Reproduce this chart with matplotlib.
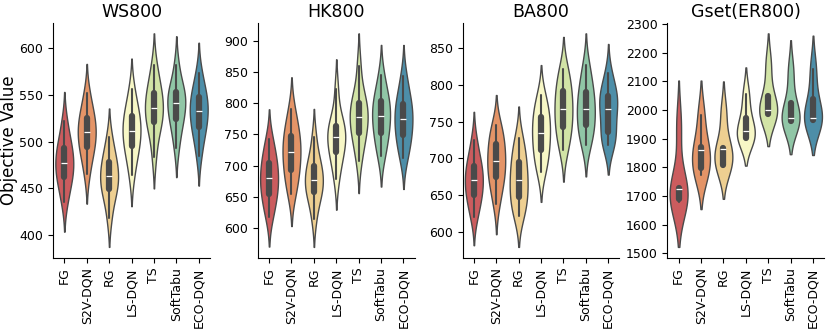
import numpy as np
import pandas as pd
import matplotlib
matplotlib.use("Agg")
import matplotlib.pyplot as plt
from matplotlib.ticker import MultipleLocator
import seaborn as sns

methods = ["FG", "S2V-DQN", "RG", "LS-DQN", "TS", "SoftTabu", "ECO-DQN"]
titles = ["WS800", "HK800", "BA800", "Gset(ER800)"]

# objective values per method
ws800 = [
    [435, 450, 459, 465, 471, 477, 483, 490, 496, 505, 522],
    [465, 482, 491, 497, 504, 510, 516, 522, 528, 537, 552],
    [418, 438, 446, 452, 457, 463, 469, 475, 481, 490, 505],
    [464, 482, 492, 498, 505, 512, 518, 525, 530, 540, 556],
    [484, 509, 518, 524, 530, 536, 543, 549, 556, 565, 582],
    [493, 511, 521, 527, 534, 541, 546, 551, 555, 562, 582],
    [485, 503, 513, 519, 526, 533, 539, 545, 550, 559, 574],
]
hk800 = [
    [618, 636, 650, 660, 670, 680, 690, 700, 710, 725, 743],
    [655, 670, 688, 698, 710, 722, 732, 743, 753, 768, 790],
    [615, 643, 654, 662, 669, 677, 686, 695, 703, 716, 746],
    [678, 703, 718, 726, 736, 746, 753, 761, 767, 778, 822],
    [708, 734, 748, 758, 768, 778, 787, 796, 804, 816, 860],
    [715, 732, 748, 758, 769, 780, 789, 799, 807, 821, 845],
    [712, 728, 744, 753, 764, 775, 785, 795, 804, 819, 844],
]
ba800 = [
    [620, 635, 647, 654, 662, 670, 678, 686, 693, 705, 725],
    [638, 657, 670, 678, 687, 696, 705, 715, 723, 737, 745],
    [622, 629, 643, 651, 661, 670, 680, 691, 700, 715, 728],
    [682, 692, 707, 715, 725, 735, 744, 753, 761, 774, 786],
    [712, 724, 739, 747, 757, 767, 777, 787, 796, 811, 822],
    [718, 728, 741, 749, 758, 767, 777, 787, 795, 810, 828],
    [718, 722, 730, 742, 755, 768, 775, 782, 788, 798, 816],
]
gset = [
    [1680, 1689, 1724, 1729, 1945],
    [1773, 1797, 1860, 1872, 1984],
    [1800, 1808, 1864, 1866, 1990],
    [1900, 1903, 1926, 1974, 2055],
    [1982, 1987, 1999, 2049, 2160],
    [1955, 1961, 1972, 2024, 2135],
    [1958, 1964, 1972, 2040, 2145],
]
steps = [50, 50, 50, 100]

sns.set_style("ticks", {"axes.edgecolor": "black", "text.color": "black",
                        "xtick.color": "black", "ytick.color": "black",
                        "axes.labelcolor": "black"})
plt.rcParams["font.family"] = ["DejaVu Sans"]

fig, axes = plt.subplots(1, 4, figsize=(8.3, 3.29), dpi=100)
fig.subplots_adjust(left=0.064, right=0.993, bottom=0.217, top=0.931, wspace=0.306)

for ax, title, data, step in zip(axes, titles, [ws800, hk800, ba800, gset], steps):
    rows = []
    for m, vals in zip(methods, data):
        for v in vals:
            rows.append((m, v))
    df = pd.DataFrame(rows, columns=["method", "value"])
    sns.violinplot(data=df, x="method", y="value", hue="method", order=methods,
                   hue_order=methods, palette="Spectral", legend=False,
                   linewidth=1, ax=ax)
    ax.set_title(title, fontsize=12.5, pad=4)
    ax.set_xlabel("")
    ax.set_ylabel("")
    ax.yaxis.set_major_locator(MultipleLocator(step))
    ax.tick_params(axis="x", labelrotation=90, labelsize=9)
    ax.tick_params(axis="y", labelsize=9)
    sns.despine(ax=ax)

axes[0].set_ylabel("Objective Value", fontsize=12, labelpad=1)

fig.savefig("out.png", dpi=100)
